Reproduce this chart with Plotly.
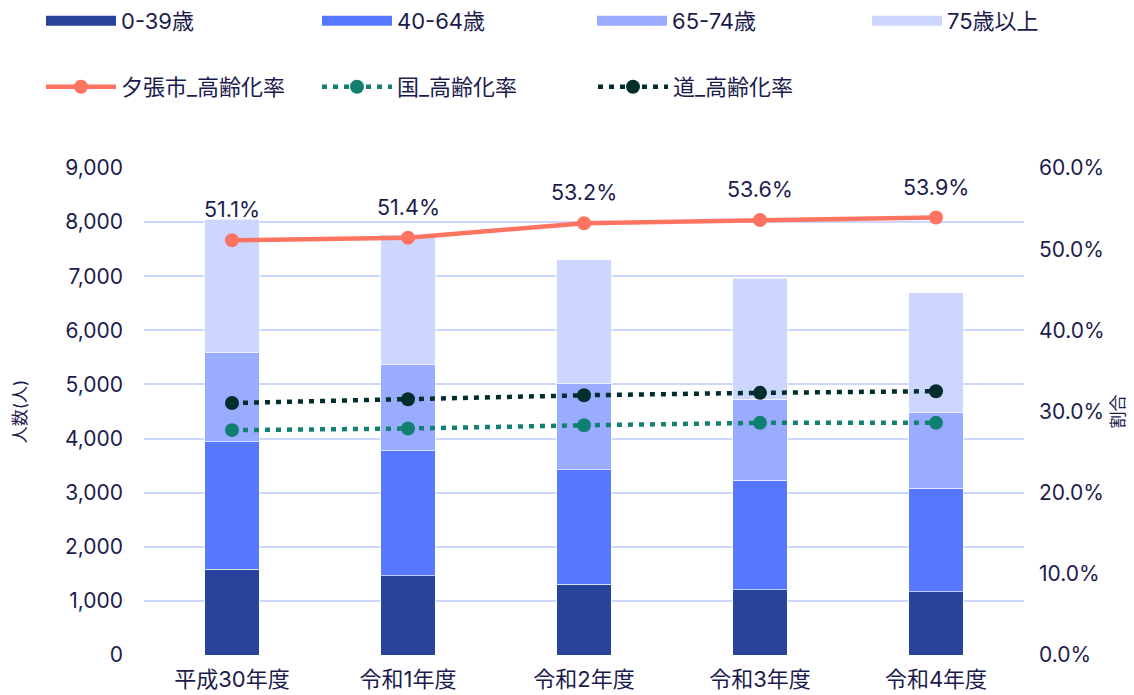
import plotly.graph_objects as go

categories = ["平成30年度", "令和1年度", "令和2年度", "令和3年度", "令和4年度"]
age_0_39 = [1585, 1466, 1306, 1207, 1170]
age_40_64 = [2357, 2310, 2113, 2027, 1916]
age_65_74 = [1645, 1589, 1595, 1497, 1392]
age_75_plus = [2463, 2405, 2286, 2236, 2218]
yubari_rate = [0.511, 0.514, 0.532, 0.536, 0.539]
kuni_rate = [0.277, 0.279, 0.283, 0.286, 0.286]
dou_rate = [0.3105, 0.315, 0.320, 0.323, 0.325]
rate_labels = ["51.1%", "51.4%", "53.2%", "53.6%", "53.9%"]

bar_names = ["0-39歳", "40-64歳", "65-74歳", "75歳以上"]
bar_values = [age_0_39, age_40_64, age_65_74, age_75_plus]
bar_colors = ["#27449A", "#5677FF", "#9AACFF", "#CDD6FF"]

line_names = ["夕張市_高齢化率", "国_高齢化率", "道_高齢化率"]
line_values = [yubari_rate, kuni_rate, dou_rate]
line_colors = ["#FF7461", "#128070", "#002E2D"]
line_dashes = ["solid", "5px,6px", "5px,6px"]

TEXT = "#1b1c4d"
FONT = "Inter, Noto Sans CJK JP, sans-serif"

# pixel geometry of the plot area
L, R, T, B, W, H = 144, 110, 168, 40, 1134, 695
PW, PH = W - L - R, H - T - B


def px_x(p):
    return (p - L) / PW


def px_y(p):
    return (H - B - p) / PH


fig = go.Figure()
for name, vals, col in zip(bar_names, bar_values, bar_colors):
    fig.add_trace(go.Bar(x=categories, y=vals, name=name, marker_color=col,
                         marker_line=dict(color="rgba(255,255,255,0.6)", width=1),
                         showlegend=False))

legend_layout = {}
row1_x = [41, 317, 592, 867]
row2_x = [41, 317, 593]
n = 1
# legend-only swatches for the bars
for name, col, lx in zip(bar_names, bar_colors, row1_x):
    key = "legend" if n == 1 else f"legend{n}"
    fig.add_trace(go.Scatter(x=[None], y=[None], mode="lines", name=name,
                             line=dict(color=col, width=10), legend=key))
    legend_layout[key] = dict(orientation="h", x=px_x(lx), y=px_y(21), xanchor="left",
                              yanchor="middle", itemwidth=70, font=dict(size=22),
                              bgcolor="rgba(0,0,0,0)")
    n += 1

for name, vals, col, dash, lx in zip(line_names, line_values, line_colors, line_dashes, row2_x):
    key = f"legend{n}"
    fig.add_trace(go.Scatter(x=categories, y=vals, yaxis="y2", name=name,
                             mode="lines+markers", line=dict(color=col, width=4.5, dash=dash),
                             marker=dict(size=14, color=col), legend=key))
    legend_layout[key] = dict(orientation="h", x=px_x(lx), y=px_y(87), xanchor="left",
                              yanchor="middle", itemwidth=70, font=dict(size=22),
                              bgcolor="rgba(0,0,0,0)")
    n += 1

for c, v, t in zip(categories, yubari_rate, rate_labels):
    fig.add_annotation(x=c, y=v, yref="y2", text=t, showarrow=False, yshift=31,
                       font=dict(size=21.5, color=TEXT, family=FONT))

fig.update_layout(
    width=W, height=H,
    barmode="stack", bargap=0.69,
    plot_bgcolor="white", paper_bgcolor="white",
    font=dict(family=FONT, color=TEXT, size=21),
    margin=dict(l=L, r=R, t=T, b=B, autoexpand=False),
    xaxis=dict(showgrid=False, showline=False, tickfont=dict(size=22), ticks="",
               ticklabelstandoff=9),
    yaxis=dict(range=[0, 9000], dtick=1000, tickformat=",", showgrid=True,
               gridcolor="#CDD6FF", gridwidth=2, zeroline=False, ticks="",
               ticklabelstandoff=20,
               title=dict(text="人数(人)", font=dict(size=17), standoff=33),
               tickfont=dict(size=21)),
    yaxis2=dict(range=[0, 0.6], dtick=0.1, tickformat=".1%", overlaying="y", side="right",
                showgrid=False, zeroline=False, ticks="", ticklabelstandoff=14,
                title=dict(text="割合", font=dict(size=17), standoff=8),
                tickfont=dict(size=21)),
    **legend_layout,
)

fig.write_html("out.html")
